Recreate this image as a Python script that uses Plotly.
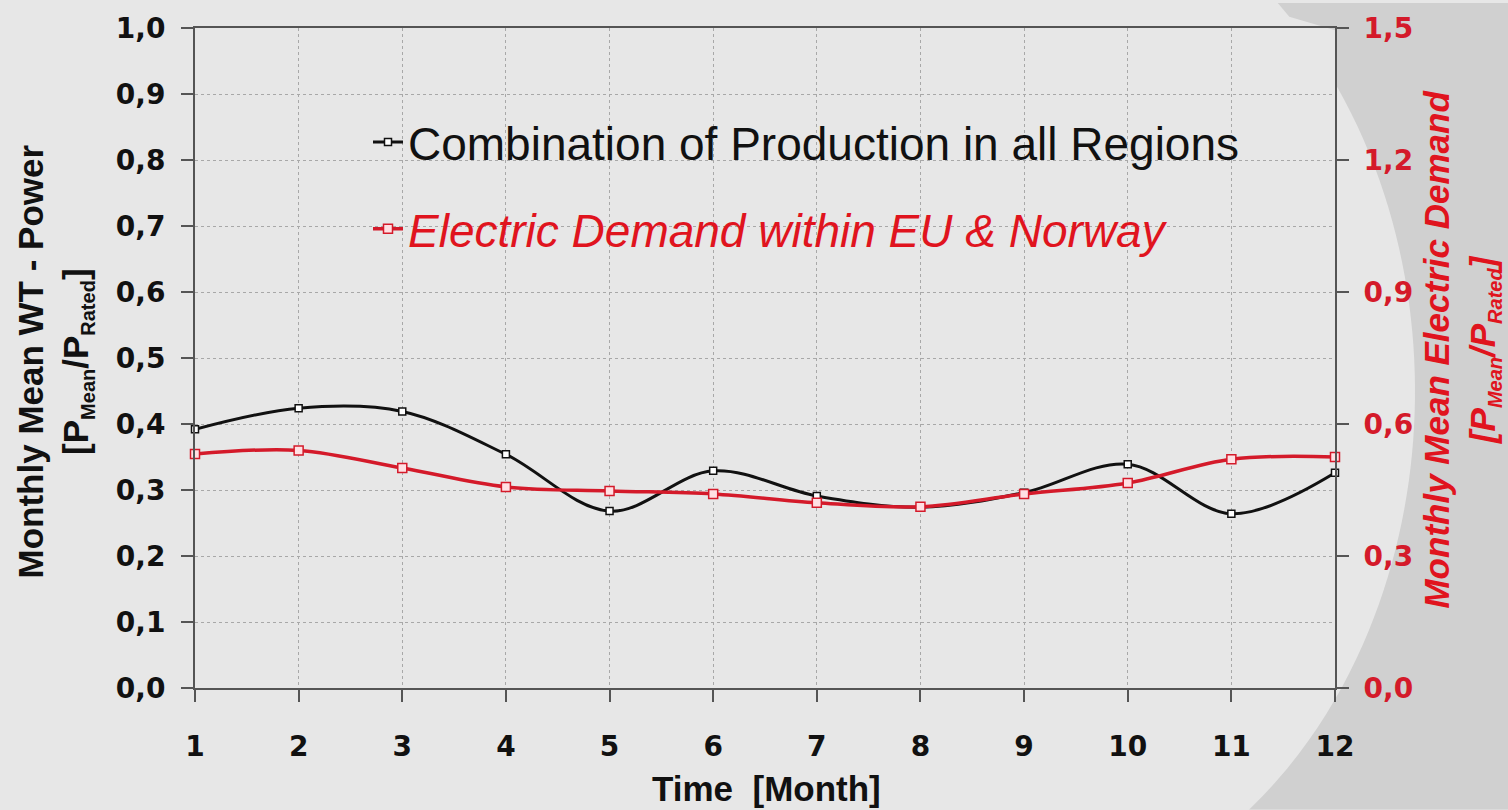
import numpy as np
import plotly.graph_objects as go

# ---- data ----
months = [1, 2, 3, 4, 5, 6, 7, 8, 9, 10, 11, 12]
production = [0.392, 0.424, 0.419, 0.354, 0.268, 0.329, 0.291, 0.274, 0.296, 0.339, 0.264, 0.326]
demand = [0.532, 0.540, 0.500, 0.457, 0.448, 0.441, 0.421, 0.412, 0.441, 0.466, 0.520, 0.525]
left_ticks = [0.0, 0.1, 0.2, 0.3, 0.4, 0.5, 0.6, 0.7, 0.8, 0.9, 1.0]
right_ticks = [0.0, 0.3, 0.6, 0.9, 1.2, 1.5]

W, H = 1508, 810
L, R, T, B = 195, 173, 25, 122
PW, PH = W - L - R, H - T - B

RED_LINE = "#d41a2a"
RED_TEXT = "#e0141e"
BG = "#e7e7e7"
TXT = "Liberation Sans, Arial, sans-serif"
TICKF = "DejaVu Sans, Liberation Sans, sans-serif"


def px2paper(px, py):
    return (px - L) / PW, (H - B - py) / PH


SUBS = "[P<sub><span style='font-size:20px'>Mean</span></sub>/P<sub><span style='font-size:20px'>Rated</span></sub>]"

fig = go.Figure()
fig.add_trace(go.Scatter(
    x=months, y=production, name="Combination of Production in all Regions",
    mode="lines+markers", line=dict(color="#111111", width=3, shape="spline"),
    marker=dict(symbol="square", size=7, color="white", line=dict(color="#111111", width=1.5)),
    cliponaxis=False, legendgroup="a", yaxis="y"))
fig.add_trace(go.Scatter(
    x=months, y=demand,
    name="<i><span style='color:%s'>Electric Demand within EU &amp; Norway</span></i>" % RED_TEXT,
    mode="lines+markers", line=dict(color=RED_LINE, width=3.5, shape="spline"),
    marker=dict(symbol="square", size=9, color="#ffe0e3", line=dict(color=RED_LINE, width=1.5)),
    cliponaxis=False, legendgroup="b", yaxis="y2"))

# decorative darker background region on the right
pts = []
for py in np.linspace(0, H, 60):
    dy = (py - 390) / 530.0
    ex = 990 + 425 * np.sqrt(max(0.0, 1 - dy * dy))
    if T - 1 <= py <= H - B + 1:
        ex = max(ex, L + PW + 1)
    pts.append((ex, py))
path = "M %f,%f " % px2paper(W, 0)
for (ex, py) in pts:
    path += "L %f,%f " % px2paper(ex, py)
path += "L %f,%f Z" % px2paper(W, H)

fig.update_layout(
    width=W, height=H,
    margin=dict(l=L, r=R, t=T, b=B),
    paper_bgcolor=BG, plot_bgcolor=BG,
    separators=",.",
    shapes=[dict(type="path", path=path, xref="paper", yref="paper",
                 fillcolor="#d0d0d0", line=dict(width=0), layer="below")],
    xaxis=dict(range=[1, 12], tickvals=months, ticktext=[str(m) for m in months],
               showline=True, linecolor="#555555", linewidth=2, mirror=True,
               ticks="outside", ticklen=12, tickcolor="#555555", tickwidth=2,
               ticklabelstandoff=20,
               tickfont=dict(family=TICKF, size=28, color="#111111", weight="bold"),
               showgrid=True, gridcolor="#a8a8a8", gridwidth=1, griddash="dot",
               zeroline=False),
    yaxis=dict(range=[0, 1], tickvals=left_ticks, tickformat=".1f",
               showline=True, linecolor="#555555", linewidth=2,
               ticks="outside", ticklen=12, tickcolor="#555555", tickwidth=2,
               ticklabelstandoff=10,
               tickfont=dict(family=TICKF, size=28, color="#111111", weight="bold"),
               showgrid=True, gridcolor="#a8a8a8", gridwidth=1, griddash="dot",
               zeroline=False),
    yaxis2=dict(range=[0, 1.5], tickvals=right_ticks, tickformat=".1f",
                overlaying="y", side="right",
                showline=True, linecolor="#555555", linewidth=2,
                ticks="outside", ticklen=12, tickcolor="#555555", tickwidth=2,
                ticklabelstandoff=9,
                tickfont=dict(family=TICKF, size=28, color=RED_LINE, weight="bold"),
                showgrid=False, zeroline=False),
    legend=dict(x=px2paper(368, 0)[0], y=px2paper(0, 103)[1], xanchor="left", yanchor="top",
                bgcolor="rgba(0,0,0,0)", traceorder="grouped", tracegroupgap=24,
                font=dict(family=TXT, size=46, color="#111111")),
    annotations=[
        dict(text="Monthly Mean WT - Power<br>" + SUBS,
             x=px2paper(55, 0)[0], y=px2paper(0, 360)[1], xref="paper", yref="paper",
             textangle=-90, showarrow=False, xanchor="center", yanchor="middle",
             font=dict(family=TXT, size=35, color="#111111", weight="bold")),
        dict(text="<i>Monthly Mean Electric Demand<br>" + SUBS + "</i>",
             x=px2paper(1462, 0)[0], y=px2paper(0, 348)[1], xref="paper", yref="paper",
             textangle=-90, showarrow=False, xanchor="center", yanchor="middle",
             font=dict(family=TXT, size=35, color=RED_TEXT, weight="bold")),
        dict(text="Time\u00a0 [Month]",
             x=px2paper(766, 0)[0], y=px2paper(0, 789)[1], xref="paper", yref="paper",
             showarrow=False, xanchor="center", yanchor="middle",
             font=dict(family=TXT, size=35, color="#111111", weight="bold")),
    ],
)

fig.write_html("out.html", config={"displayModeBar": False},
               post_script="document.body.style.margin='0';"
                           "document.body.style.background='%s';" % BG)
